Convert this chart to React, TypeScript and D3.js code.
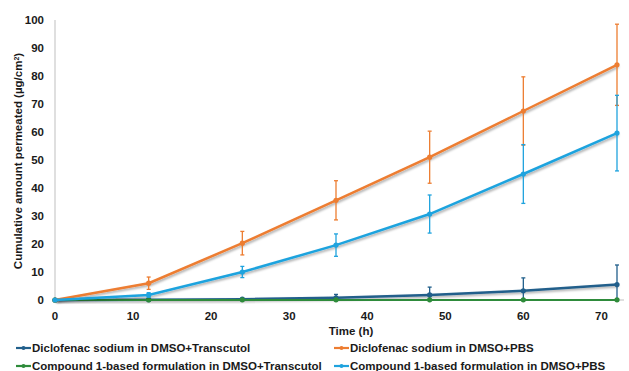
import * as d3 from 'd3';

const times = [0, 12, 24, 36, 48, 60, 72];
const xTicks = [0, 10, 20, 30, 40, 50, 60, 70];
const yTicks = [0, 10, 20, 30, 40, 50, 60, 70, 80, 90, 100];

const dicloTransMean = [0, 0.1, 0.3, 0.8, 1.8, 3.3, 5.5];
const dicloTransErr = [0, 0.1, 0.3, 1.2, 2.8, 4.6, 7.0];
const dicloPbsMean = [0, 6.0, 20.3, 35.6, 51.0, 67.5, 84.0];
const dicloPbsErr = [0, 2.2, 4.2, 7.0, 9.3, 12.2, 14.5];
const compTransMean = [0, 0.05, 0.05, 0.05, 0.05, 0.05, 0.05];
const compTransErr = [0, 0, 0, 0, 0, 0, 0];
const compPbsMean = [0, 1.8, 10.0, 19.6, 30.7, 45.0, 59.6];
const compPbsErr = [0, 0.8, 2.0, 4.0, 6.8, 10.5, 13.5];

const seriesNames = [
  'Diclofenac sodium in DMSO+Transcutol',
  'Diclofenac sodium in DMSO+PBS',
  'Compound 1-based formulation in DMSO+Transcutol',
  'Compound 1-based formulation in DMSO+PBS',
];

const series = [
  { name: seriesNames[0], mean: dicloTransMean, err: dicloTransErr, color: '#215f8b' },
  { name: seriesNames[1], mean: dicloPbsMean, err: dicloPbsErr, color: '#ed7d31' },
  { name: seriesNames[2], mean: compTransMean, err: compTransErr, color: '#2e8b3a' },
  { name: seriesNames[3], mean: compPbsMean, err: compPbsErr, color: '#1fa3de' },
];

const W = 629;
const H = 371;
const margin = { top: 20, right: 12, bottom: 71, left: 55 };
const font = '"Liberation Sans", Arial, sans-serif';

export default function App() {
  const x = d3.scaleLinear().domain([0, 72]).range([margin.left, 617]);
  const y = d3.scaleLinear().domain([0, 100]).range([H - margin.bottom, margin.top]);

  const line = d3
    .line<number>()
    .x((_, i) => x(times[i]))
    .y((d) => y(d));

  // legend placement
  const legendPos = [
    { lx: 16, ly: 348 },
    { lx: 334, ly: 348 },
    { lx: 16, ly: 366 },
    { lx: 334, ly: 366 },
  ];

  return (
    <svg
      width={W}
      height={H}
      style={{ position: 'absolute', left: 0, top: 0, background: '#fff' }}
      fontFamily={font}
    >
      <defs>
        <filter id="shadow" x="-10%" y="-10%" width="120%" height="130%">
          <feDropShadow dx="1.5" dy="1.5" stdDeviation="1" floodColor="#000" floodOpacity="0.35" />
        </filter>
      </defs>

      {/* axes */}
      <line x1={x(0)} x2={x(0)} y1={y(100)} y2={y(0)} stroke="#bfbfbf" strokeWidth={1} />
      <line x1={x(0)} x2={624} y1={y(0)} y2={y(0)} stroke="#bfbfbf" strokeWidth={1} />

      {yTicks.map((t) => (
        <text
          key={t}
          x={44}
          y={y(t)}
          dy="0.35em"
          textAnchor="end"
          fontSize={11.5}
          fontWeight="bold"
          fill="#1a1a1a"
        >
          {t}
        </text>
      ))}
      {xTicks.map((t) => (
        <text
          key={t}
          x={x(t)}
          y={316}
          dy="0.35em"
          textAnchor="middle"
          fontSize={11.5}
          fontWeight="bold"
          fill="#1a1a1a"
        >
          {t}
        </text>
      ))}

      <text x={351} y={331} dy="0.35em" textAnchor="middle" fontSize={11.5} fontWeight="bold" fill="#1a1a1a">
        Time (h)
      </text>
      <text
        transform={`translate(18,${(y(0) + y(100)) / 2 + 1}) rotate(-90)`}
        textAnchor="middle"
        dy="0.35em"
        fontSize={11.5}
        fontWeight="bold"
        fill="#1a1a1a"
      >
        Cumulative amount permeated (µg/cm<tspan baselineShift="super" fontSize={7}>2</tspan>)
      </text>

      {/* series */}
      {series.map((s) => (
        <g key={s.name}>
          <path d={line(s.mean) || ''} fill="none" stroke={s.color} strokeWidth={2.5} filter="url(#shadow)" />
          {s.mean.map((m, i) =>
            s.err[i] > 0 ? (
              <g key={i} stroke={s.color} strokeWidth={1.3}>
                <line x1={x(times[i])} x2={x(times[i])} y1={y(m + s.err[i])} y2={y(Math.max(0, m - s.err[i]))} />
                <line x1={x(times[i]) - 2} x2={x(times[i]) + 2} y1={y(m + s.err[i])} y2={y(m + s.err[i])} />
                <line
                  x1={x(times[i]) - 2}
                  x2={x(times[i]) + 2}
                  y1={y(Math.max(0, m - s.err[i]))}
                  y2={y(Math.max(0, m - s.err[i]))}
                />
              </g>
            ) : null
          )}
          {s.mean.map((m, i) => (
            <circle key={'p' + i} cx={x(times[i])} cy={y(m)} r={2.6} fill={s.color} />
          ))}
        </g>
      ))}

      {/* legend */}
      {series.map((s, i) => {
        const { lx, ly } = legendPos[i];
        return (
          <g key={'lg' + i}>
            <line x1={lx} x2={lx + 15} y1={ly} y2={ly} stroke={s.color} strokeWidth={2.2} />
            <circle cx={lx + 7.5} cy={ly} r={2} fill={s.color} />
            <text x={lx + 16} y={ly} dy="0.35em" fontSize={11.5} fontWeight="bold" fill="#1a1a1a">
              {s.name}
            </text>
          </g>
        );
      })}
    </svg>
  );
}
